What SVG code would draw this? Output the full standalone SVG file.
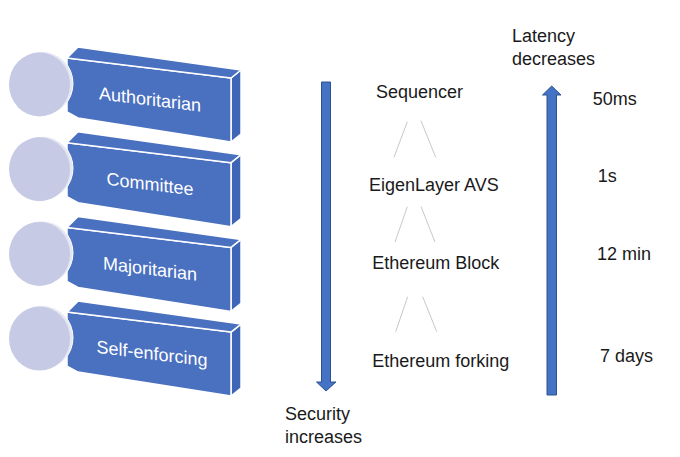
<svg xmlns="http://www.w3.org/2000/svg" width="680" height="457" viewBox="0 0 680 457">
<defs>
<style>
.front{fill:#4a70c0;stroke:#ffffff;stroke-width:1.5;stroke-linejoin:round}
.top{fill:#4a70c0;stroke:#ffffff;stroke-width:1.5;stroke-linejoin:round}
.side{fill:#3f66b6;stroke:#ffffff;stroke-width:1.5;stroke-linejoin:round}
.rim{fill:#e4e6f2;stroke:#ffffff;stroke-width:1}
.disc{fill:#c6cae4}
.lbl{font-family:"Liberation Sans",Arial,sans-serif;font-size:18px;fill:#ffffff;text-anchor:middle}
.txt{font-family:"Liberation Sans",Arial,sans-serif;font-size:18px;fill:#1a1a1a}
.arr{fill:#4472c4;stroke:#2f528f;stroke-width:1}
.thin{stroke:#c8c8c8;stroke-width:1;fill:none}
</style>
<g id="box">
<polygon class="side" points="231,78 241,70 241,134 231,142"/>
<polygon class="front" points="67,58 231,78 231,142 78,118 67,112"/>
<polygon class="top" points="67,58 78,47 241,70 231,78"/>
<ellipse class="rim" cx="42" cy="83.5" rx="31" ry="32"/>
<ellipse class="disc" cx="39.5" cy="84.5" rx="30.5" ry="32"/>
</g>
</defs>
<rect width="680" height="457" fill="#ffffff"/>
<g id="node-authoritarian">
<use href="#box"/>
<text class="lbl" transform="translate(150,105.5) skewY(7)">Authoritarian</text>
</g>
<g id="node-committee" transform="translate(0,84.7)">
<use href="#box"/>
<text class="lbl" transform="translate(150,105.5) skewY(7)">Committee</text>
</g>
<g id="node-majoritarian" transform="translate(0,169.4)">
<use href="#box"/>
<text class="lbl" transform="translate(150,105.5) skewY(7)">Majoritarian</text>
</g>
<g id="node-selfenforcing" transform="translate(0,254.1)">
<use href="#box"/>
<text class="lbl" transform="translate(152,105.5) skewY(7)">Self-enforcing</text>
</g>
<g id="connectors">
<polygon class="arr" points="321.5,82 330.5,82 330.5,382 336,382 326,391 316.5,382 321.5,382"/>
<polygon class="arr" points="547,395 556.5,395 556.5,95 561,95 551.7,86 542.5,95 547,95"/>
<line class="thin" x1="407.3" y1="121.7" x2="394" y2="157.3"/>
<line class="thin" x1="421" y1="120.7" x2="435.7" y2="157.3"/>
<line class="thin" x1="407.3" y1="206.7" x2="395" y2="242"/>
<line class="thin" x1="421" y1="206.5" x2="435" y2="242"/>
<line class="thin" x1="407.7" y1="296.7" x2="395.7" y2="331.7"/>
<line class="thin" x1="422.7" y1="296.7" x2="436.7" y2="331.7"/>
</g>
<g id="node-sequencer"><text class="txt" x="376" y="97.5">Sequencer</text></g>
<g id="node-eigenlayer"><text class="txt" x="369" y="191">EigenLayer AVS</text></g>
<g id="node-ethblock"><text class="txt" x="372.3" y="268.5">Ethereum Block</text></g>
<g id="node-ethfork"><text class="txt" x="372.3" y="366.5">Ethereum forking</text></g>
<g id="label-security"><text class="txt" x="285" y="420">Security</text><text class="txt" x="285" y="443">increases</text></g>
<g id="label-latency"><text class="txt" x="512" y="41.5">Latency</text><text class="txt" x="512" y="65">decreases</text></g>
<g id="times">
<text class="txt" x="592.7" y="105">50ms</text>
<text class="txt" x="597.7" y="181.7">1s</text>
<text class="txt" x="597" y="260">12 min</text>
<text class="txt" x="600" y="361.7">7 days</text>
</g>
</svg>
